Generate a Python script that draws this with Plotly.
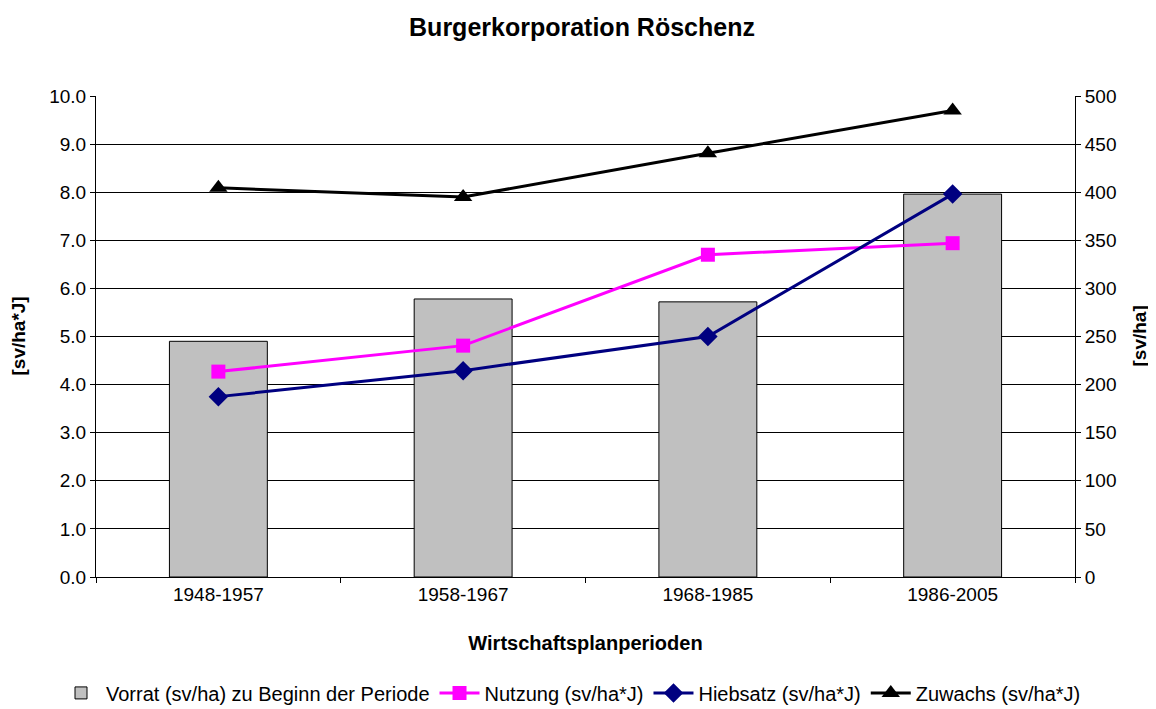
import plotly.graph_objects as go

categories = ["1948-1957", "1958-1967", "1968-1985", "1986-2005"]
vorrat = [245, 289, 286, 398]          # sv/ha, right axis
nutzung = [4.27, 4.81, 6.70, 6.94]     # sv/ha*J, left axis
hiebsatz = [3.75, 4.29, 5.00, 7.96]
zuwachs = [8.09, 7.90, 8.81, 9.70]

left_ticks = [i for i in range(0, 11)]
left_labels = [f"{v:.1f}" for v in left_ticks]
right_ticks = [i * 50 for i in range(0, 11)]

font = "Liberation Sans, Arial, sans-serif"

fig = go.Figure()
fig.add_trace(go.Bar(
    x=categories, y=vorrat, name="Vorrat (sv/ha) zu Beginn der Periode",
    marker=dict(color="#C0C0C0", line=dict(color="black", width=1)),
    yaxis="y",
))
fig.add_trace(go.Scatter(
    x=categories, y=nutzung, name="Nutzung (sv/ha*J)", mode="lines+markers",
    line=dict(color="#FF00FF", width=3),
    marker=dict(symbol="square", size=14, color="#FF00FF"),
    yaxis="y2",
))
fig.add_trace(go.Scatter(
    x=categories, y=hiebsatz, name="Hiebsatz (sv/ha*J)", mode="lines+markers",
    line=dict(color="#000080", width=3),
    marker=dict(symbol="diamond", size=15, color="#000080"),
    yaxis="y2",
))
fig.add_trace(go.Scatter(
    x=categories, y=zuwachs, name="Zuwachs (sv/ha*J)", mode="lines+markers",
    line=dict(color="black", width=3),
    marker=dict(symbol="triangle-up", size=16, color="black"),
    yaxis="y2",
))

W, H = 1148, 701  # page body has an 8px margin
L, R, T, B = 88, 81, 88, 132
pw = W - L - R
fig.update_layout(
    width=W, height=H,
    margin=dict(l=L, r=R, t=T, b=B, autoexpand=False),
    paper_bgcolor="white", plot_bgcolor="white",
    font=dict(family=font, size=19, color="black"),
    title=dict(text="<b>Burgerkorporation Röschenz</b>", x=0.5, xanchor="center",
               y=1 - 19 / H, yref="container", yanchor="middle",
               font=dict(size=25, family=font)),
    bargap=0.6,
    showlegend=True,
    legend=dict(orientation="h", x=(48 - L) / pw, xanchor="left",
                y=-0.241, yanchor="middle",
                font=dict(size=20), traceorder="normal", itemwidth=40),
    xaxis=dict(
        showline=True, linecolor="black", linewidth=1,
        ticks="outside", ticklen=5, tickcolor="black", tickson="boundaries",
        showgrid=False, automargin=False,
        title=dict(text="<b>Wirtschaftsplanperioden</b>", standoff=32, font=dict(size=20)),
    ),
    yaxis=dict(
        side="right", range=[0, 500], tickvals=right_ticks,
        showline=True, linecolor="black", linewidth=1,
        ticks="outside", ticklen=5, tickcolor="black",
        showgrid=True, gridcolor="black", gridwidth=1,
        zeroline=False, automargin=False,
    ),
    yaxis2=dict(
        side="left", overlaying="y", range=[0, 10],
        tickvals=left_ticks, ticktext=left_labels,
        showline=True, linecolor="black", linewidth=1,
        ticks="outside", ticklen=5, tickcolor="black",
        showgrid=False, zeroline=False, automargin=False,
    ),
    annotations=[
        dict(text="<b>[sv/ha*J]</b>", textangle=-90, xref="paper", yref="paper",
             x=(10 - L) / pw, y=0.5, xanchor="center", yanchor="middle",
             showarrow=False, font=dict(size=19)),
        dict(text="<b>[sv/ha]</b>", textangle=-90, xref="paper", yref="paper",
             x=(1131 - L) / pw, y=0.5, xanchor="center", yanchor="middle",
             showarrow=False, font=dict(size=19)),
    ],
)

fig.write_html("out.html")
